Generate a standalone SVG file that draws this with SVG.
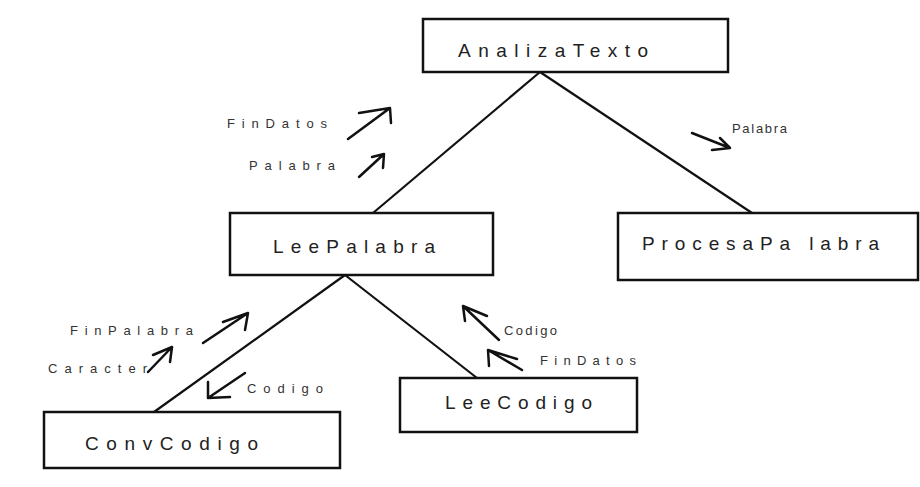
<svg xmlns="http://www.w3.org/2000/svg" width="920" height="487" viewBox="0 0 920 487">
<style>
.box{fill:#fff;stroke:#111;stroke-width:2.5}
.lbl{font-family:"Liberation Sans",Arial,sans-serif;font-size:19px;fill:#222}
.edge{stroke:#111;stroke-width:2.2;fill:none}
.arr{stroke:#111;stroke-width:2.5;fill:none;stroke-linecap:round;stroke-linejoin:round}
.sm{font-family:"Liberation Sans",Arial,sans-serif;font-size:13px;fill:#333}
</style>
<rect width="920" height="487" fill="#fff"/>
<g id="connectors">
<path class="edge" d="M540,72 L373,213"/>
<path class="edge" d="M540,72 L752,213"/>
<path class="edge" d="M345,275 L154,412"/>
<path class="edge" d="M345,275 L477,378"/>
</g>
<g id="node-analizatexto">
<rect class="box" x="423" y="19" width="305" height="53"/>
<text class="lbl" x="458" y="57" textLength="190" lengthAdjust="spacing">AnalizaTexto</text>
</g>
<g id="node-leepalabra">
<rect class="box" x="230" y="213" width="263" height="62"/>
<text class="lbl" x="273" y="253" textLength="162" lengthAdjust="spacing">LeePalabra</text>
</g>
<g id="node-procesapalabra">
<rect class="box" x="618" y="213" width="300" height="67"/>
<text class="lbl" x="642" y="250" textLength="237" lengthAdjust="spacing">ProcesaPa labra</text>
</g>
<g id="node-leecodigo">
<rect class="box" x="400" y="378" width="237" height="54"/>
<text class="lbl" x="445" y="409" textLength="147" lengthAdjust="spacing">LeeCodigo</text>
</g>
<g id="node-convcodigo">
<rect class="box" x="44" y="412" width="296" height="56"/>
<text class="lbl" x="85" y="450" textLength="173" lengthAdjust="spacing">ConvCodigo</text>
</g>
<g id="flows">
<path class="arr" d="M348,139 L390,108 M359,113 L390,108 L391,123"/>
<path class="arr" d="M359,177 L384,154 M372,157 L384,154 L383,168"/>
<path class="arr" d="M692,133 L730,148 M712,150 L730,148 L720,138"/>
<path class="arr" d="M203,343 L248,313 M223,322 L248,313 L245,330"/>
<path class="arr" d="M148,372 L172,347 M153,355 L172,347 L170,362"/>
<path class="arr" d="M245,373 L208,398 M208,382 L208,398 L230,397"/>
<path class="arr" d="M499,340 L463,306 M487,316 L463,306 L465,321"/>
<path class="arr" d="M522,370 L488,350 M517,359 L488,350 L489,366"/>
<text class="sm" x="227" y="128" textLength="100" lengthAdjust="spacing">FinDatos</text>
<text class="sm" x="249" y="170" textLength="86" lengthAdjust="spacing">Palabra</text>
<text class="sm" x="732" y="133" textLength="55" lengthAdjust="spacing">Palabra</text>
<text class="sm" x="70" y="335" textLength="123" lengthAdjust="spacing">FinPalabra</text>
<text class="sm" x="48" y="373" textLength="99" lengthAdjust="spacing">Caracter</text>
<text class="sm" x="247" y="393" textLength="76" lengthAdjust="spacing">Codigo</text>
<text class="sm" x="504" y="335" textLength="53" lengthAdjust="spacing">Codigo</text>
<text class="sm" x="540" y="365" textLength="96" lengthAdjust="spacing">FinDatos</text>
</g>
</svg>
